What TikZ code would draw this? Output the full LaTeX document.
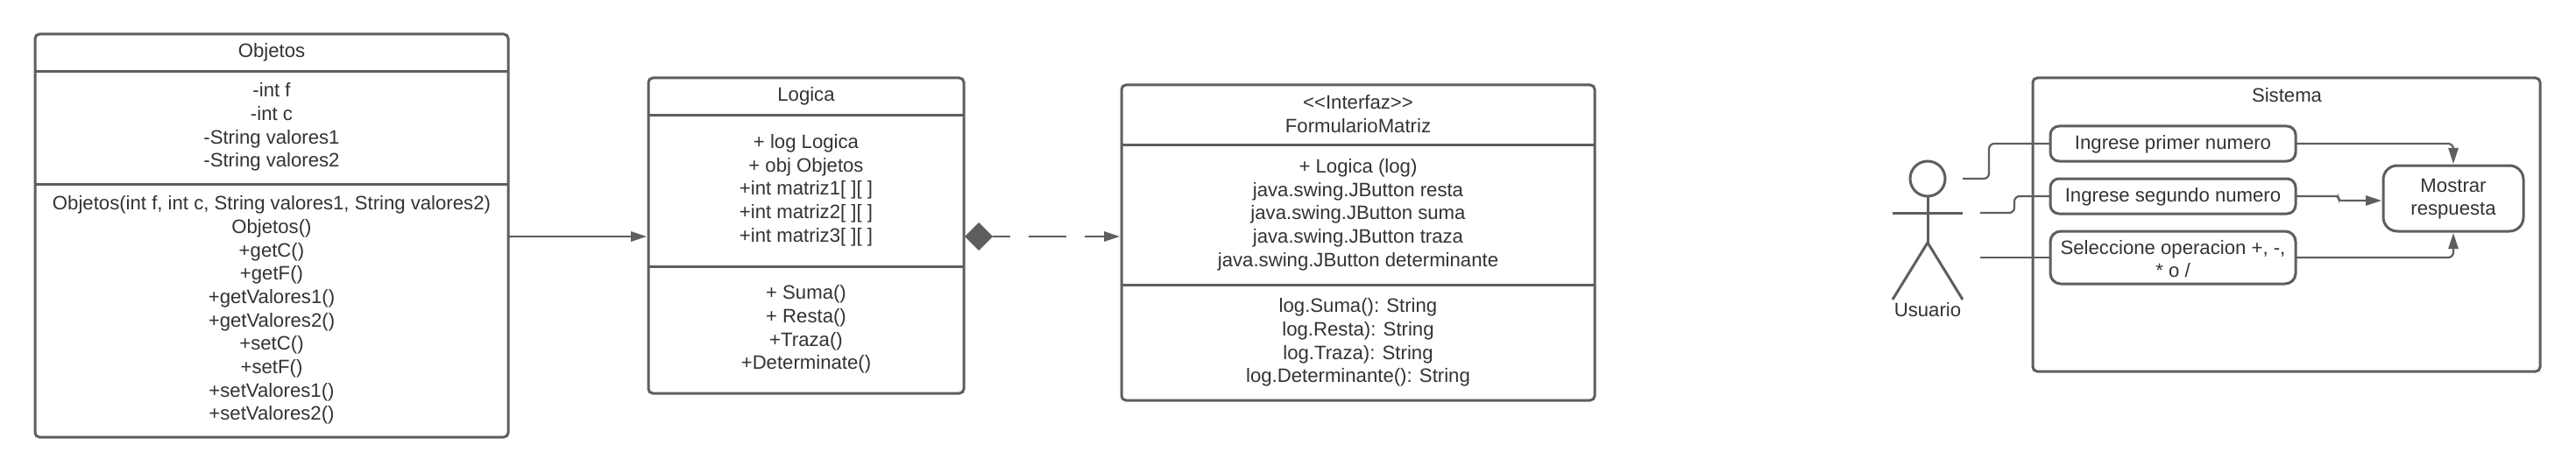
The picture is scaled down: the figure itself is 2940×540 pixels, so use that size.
\documentclass[tikz,border=0pt]{standalone}
\usepackage{fontspec}
\setmainfont{Liberation Sans}
\usetikzlibrary{arrows.meta,shapes.geometric}
\definecolor{ln}{HTML}{5E5E5E}
\definecolor{tx}{HTML}{333333}
\tikzset{
  boxbase/.style={draw=ln,line width=1.5pt,outer sep=0pt,inner sep=0pt,fill=white},
  classbox/.style={boxbase,rectangle,rounded corners=2.5pt},
  usebox/.style={boxbase,rectangle,rounded corners=6pt},
  divline/.style={draw=ln,line width=1.5pt},
  conn/.style={draw=ln,line width=1.1pt},
  arrowconn/.style={conn,-{Triangle[length=9pt,width=5.6pt]},shorten >=1pt},
  txt/.style={text=tx,align=center,inner sep=0pt,yshift=-1.1pt,font=\fontsize{11.08}{13.33}\selectfont},
  actorline/.style={draw=ln,line width=1.5pt}
}
\begin{document}
\begin{tikzpicture}[x=0.5pt,y=-0.5pt]
\useasboundingbox (0,0) rectangle (2940,540);
\fill[white] (0,0) rectangle (2940,540);

% Objetos
\node[classbox,minimum width=270pt,minimum height=230pt] (obj) at (310,269) {};
\coordinate (o1) at (0,82);
\coordinate (o2) at (0,210);
\draw[divline] (obj.west |- o1) -- (obj.east |- o1);
\draw[divline] (obj.west |- o2) -- (obj.east |- o2);
\node[txt] (objT) at (310,58) {Objetos};
\node[txt] (objA) at (310,143) {-int f\\-int c\\-String valores1\\-String valores2};
\node[txt] (objM) at (310,352) {Objetos(int f, int c, String valores1, String valores2)\\Objetos()\\+getC()\\+getF()\\+getValores1()\\+getValores2()\\+setC()\\+setF()\\+setValores1()\\+setValores2()};

% Logica
\node[classbox,minimum width=180pt,minimum height=180pt] (log) at (920,269) {};
\coordinate (l1) at (0,132);
\coordinate (l2) at (0,304);
\draw[divline] (log.west |- l1) -- (log.east |- l1);
\draw[divline] (log.west |- l2) -- (log.east |- l2);
\node[txt] (logT) at (920,108) {Logica};
\node[txt] (logA) at (920,215) {+ log Logica\\+ obj Objetos\\+int matriz1[ ][ ]\\+int matriz2[ ][ ]\\+int matriz3[ ][ ]};
\node[txt] (logM) at (920,374) {+ Suma()\\+ Resta()\\+Traza()\\+Determinate()};

% FormularioMatriz
\node[classbox,minimum width=270pt,minimum height=180pt] (frm) at (1550,277) {};
\coordinate (f1) at (0,166);
\coordinate (f2) at (0,325);
\draw[divline] (frm.west |- f1) -- (frm.east |- f1);
\draw[divline] (frm.west |- f2) -- (frm.east |- f2);
\node[txt] (frmT) at (1550,128) {<{}<Interfaz>{}>\\FormularioMatriz};
\node[txt] (frmA) at (1550,243) {+ Logica (log)\\java.swing.JButton resta\\java.swing.JButton suma\\java.swing.JButton traza\\java.swing.JButton determinante};
\node[txt] (frmM) at (1550,389) {log.Suma(): String\\log.Resta): String\\log.Traza): String\\log.Determinante(): String};

% class connectors
\coordinate (o3) at (0,270);
\draw[arrowconn] (obj.east |- o3) -- (log.west |- o3);
\node[diamond,fill=ln,draw=none,inner sep=0pt,outer sep=0pt,minimum width=16pt,minimum height=16pt] (dia) at (1117,270) {};
\draw[arrowconn,dash pattern=on 10pt off 10.5pt on 21.5pt off 10.5pt on 40pt] (dia.east) -- (dia.east -| frm.west);

% Sistema
\node[classbox,minimum width=289.5pt,minimum height=167.5pt] (sys) at (2609.5,256.5) {};
\node[txt] (sysT) at (2610,106.5) {Sistema};

% Actor
\node[circle,draw=ln,line width=1.5pt,minimum size=20pt,inner sep=0pt,outer sep=0pt] (head) at (2200,204) {};
\coordinate (hip) at (2200,277);
\coordinate (armL) at (2160,243);
\coordinate (armR) at (2240,243);
\coordinate (legL) at (2160,342);
\coordinate (legR) at (2240,342);
\draw[actorline] (head.south) -- (hip);
\draw[actorline] (armL) -- (armR);
\draw[actorline] (legL) -- (hip) -- (legR);
\node[txt] (usr) at (2200,351.5) {Usuario};

% connector free ends
\coordinate (u1) at (2240,204);
\coordinate (u2) at (2260,243);
\coordinate (u3) at (2260,294);
\coordinate (r2) at (2720,229);

% connectors (under the use-case boxes)
\draw[conn,rounded corners=3pt] (u1) -- ++(30,0) |- (2340,164) coordinate (b1w);
\draw[conn,rounded corners=3pt] (u2) -- ++(39,0) |- (2340,224) coordinate (b2w);
\draw[conn] (u3) -- (2340,294) coordinate (b3w);

% use cases
\node[usebox,rounded corners=5pt,minimum width=140pt,minimum height=20pt] (b1) at (2480,164) {};
\node[txt] (b1T) at (2480,162.5) {Ingrese primer numero};
\node[usebox,rounded corners=5pt,minimum width=140pt,minimum height=20pt] (b2) at (2480,224) {};
\node[txt] (b2T) at (2480,222.5) {Ingrese segundo numero};
\node[usebox,minimum width=140pt,minimum height=30pt] (b3) at (2480,294) {};
\node[txt] (b3T) at (2480,293.5) {Seleccione operacion +, -,\\* o /};
\node[usebox,rounded corners=8pt,minimum width=80pt,minimum height=37.5pt] (res) at (2800,226.5) {};
\node[txt] (resT) at (2800,225) {Mostrar\\respuesta};

\draw[arrowconn,rounded corners=3pt] (b1.east) -| (res.north);
\draw[arrowconn,rounded corners=1.5pt] (b2.east) -- ++(49,0) |- (r2);
\draw[arrowconn,rounded corners=3pt] (b3.east) -| (res.south);
\end{tikzpicture}
\end{document}
